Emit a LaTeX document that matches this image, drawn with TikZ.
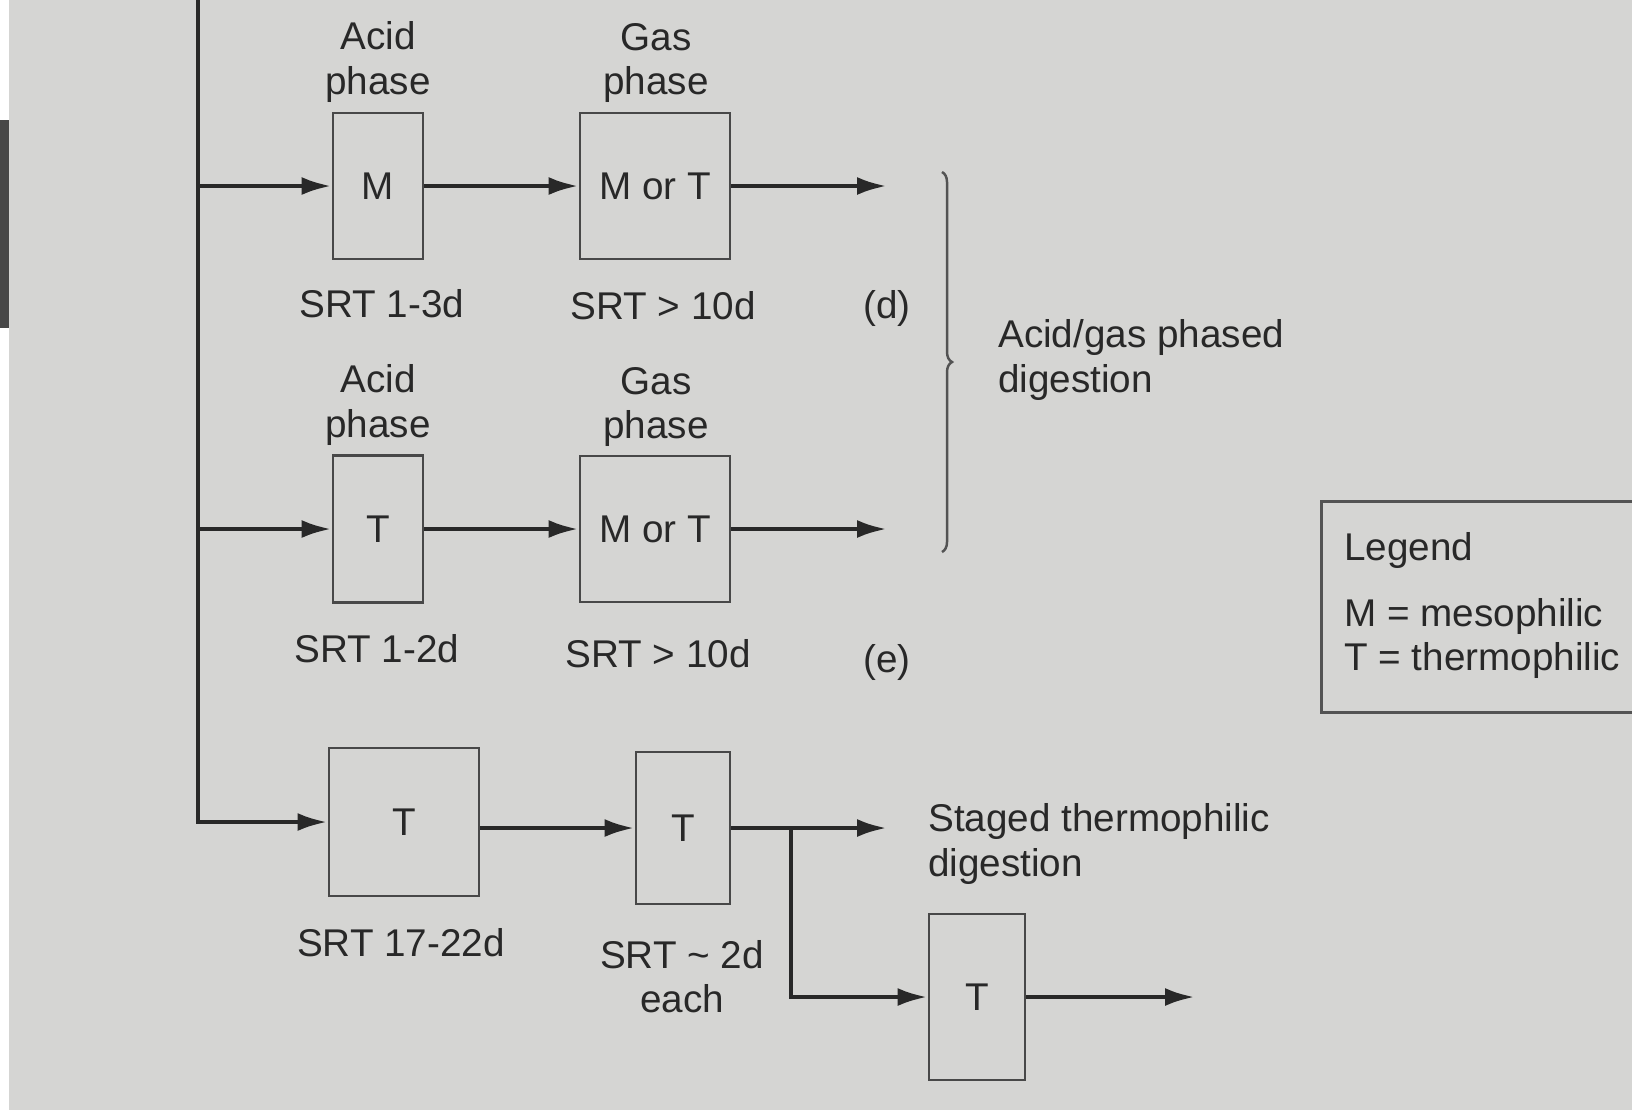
\documentclass[tikz,border=0pt]{standalone}
\usepackage{fontspec}
\setmainfont{Liberation Sans}
\usetikzlibrary{positioning, arrows.meta, decorations.pathreplacing}

\definecolor{paper}{RGB}{213,213,211}
\definecolor{ink}{RGB}{40,40,40}

\begin{document}
\begin{tikzpicture}[
    every node/.style = {text=ink, font=\fontsize{11}{12.6}\selectfont},
    tank/.style   = {draw=ink!85, line width=0.8pt, inner sep=0pt},
    txt/.style    = {align=center, inner sep=1pt},
    note/.style   = {align=left, inner sep=1pt, anchor=west},
    flow/.style   = {draw=ink, line width=1.3pt},
    legtxt/.style = {note, font=\fontsize{11}{12.6}\selectfont},
    >={Latex[length=3mm, width=1.8mm]}
]

% scanned page
\useasboundingbox (0,0) rectangle (16.32,-11.10);
\clip (0,0) rectangle (16.32,-11.10);
\fill[paper] (0.085,0) rectangle (16.32,-11.10);
\fill[black!72] (0,-1.20) rectangle (0.085,-3.28);

% main feed line
\coordinate (top) at (1.98, 0);
\coordinate (j1) at (1.98, -1.86);
\coordinate (j2) at (1.98, -5.29);

% acid/gas phased, mesophilic acid phase (d)
\node[tank, minimum width=0.90cm, minimum height=1.46cm] (acid1) at (3.78, -1.86) {M};
\node[tank, minimum width=1.50cm, minimum height=1.46cm] (gas1)  at (6.55, -1.86) {M or T};
\coordinate (out1) at (8.87, -1.86);
\node[txt] (acid1lbl) at (3.78, -0.62) {Acid\\phase};
\node[txt] (gas1lbl)  at (6.56, -0.63) {Gas\\phase};
\node[txt] (acid1srt) at (3.82, -3.04) {SRT 1-3d};
\node[txt] (gas1srt)  at (6.63, -3.06) {SRT > 10d};
\node[txt] (tagd)     at (8.87, -3.08) {(d)};

% acid/gas phased, thermophilic acid phase (e)
\node[tank, minimum width=0.90cm, minimum height=1.47cm] (acid2) at (3.78, -5.29) {T};
\node[tank, minimum width=1.50cm, minimum height=1.46cm] (gas2)  at (6.55, -5.29) {M or T};
\coordinate (out2) at (8.87, -5.29);
\node[txt] (acid2lbl) at (3.78, -4.05) {Acid\\phase};
\node[txt] (gas2lbl)  at (6.56, -4.07) {Gas\\phase};
\node[txt] (acid2srt) at (3.77, -6.49) {SRT 1-2d};
\node[txt] (gas2srt)  at (6.58, -6.54) {SRT > 10d};
\node[txt] (tage)     at (8.87, -6.62) {(e)};

% staged thermophilic
\node[tank, minimum width=1.50cm, minimum height=1.48cm] (stage1) at (4.04, -8.22) {T};
\node[tank, minimum width=0.94cm, minimum height=1.52cm] (stage2) at (6.83, -8.28) {T};
\node[tank, minimum width=0.96cm, minimum height=1.66cm] (stage3) at (9.77, -9.97) {T};
\coordinate (split) at (7.91, -8.28);
\coordinate (out3) at (8.87, -8.28);
\coordinate (out4) at (11.95, -9.97);
\node[txt] (stage1srt) at (4.01, -9.43) {SRT 17-22d};
\node[txt] (stage2srt) at (6.82, -9.77) {SRT \textasciitilde{} 2d\\each};

% arrows
\draw[flow, ->] (top) |- (stage1);
\draw[flow, ->] (j1) -- (acid1);
\draw[flow, ->] (acid1) -- (gas1);
\draw[flow, ->] (gas1) -- (out1);
\draw[flow, ->] (j2) -- (acid2);
\draw[flow, ->] (acid2) -- (gas2);
\draw[flow, ->] (gas2) -- (out2);
\draw[flow, ->] (stage1.east |- stage2) -- (stage2);
\draw[flow, ->] (stage2) -- (out3);
\draw[flow, ->] (split) |- (stage3);
\draw[flow, ->] (stage3) -- (out4);

% brace and notes
\coordinate (braceT) at (9.42, -1.72);
\coordinate (braceB) at (9.42, -5.52);
\draw[ink!80, line width=0.7pt, decorate, decoration={brace, amplitude=0.1cm}] (braceT) -- (braceB);
\node[note] (phased) at (9.94, -3.60) {Acid/gas phased\\digestion};
\node[note] (staged) at (9.24, -8.44) {Staged thermophilic\\digestion};

% legend
\node[draw=ink!80, line width=0.9pt, anchor=north west, minimum width=3.6cm, minimum height=2.11cm] (legend) at (13.20, -5.00) {};
\node[legtxt] (legtitle) at (13.40, -5.50) {Legend};
\node[legtxt] (legm)     at (13.40, -6.16) {M = mesophilic};
\node[legtxt] (legt)     at (13.40, -6.60) {T = thermophilic};

\end{tikzpicture}
\end{document}
